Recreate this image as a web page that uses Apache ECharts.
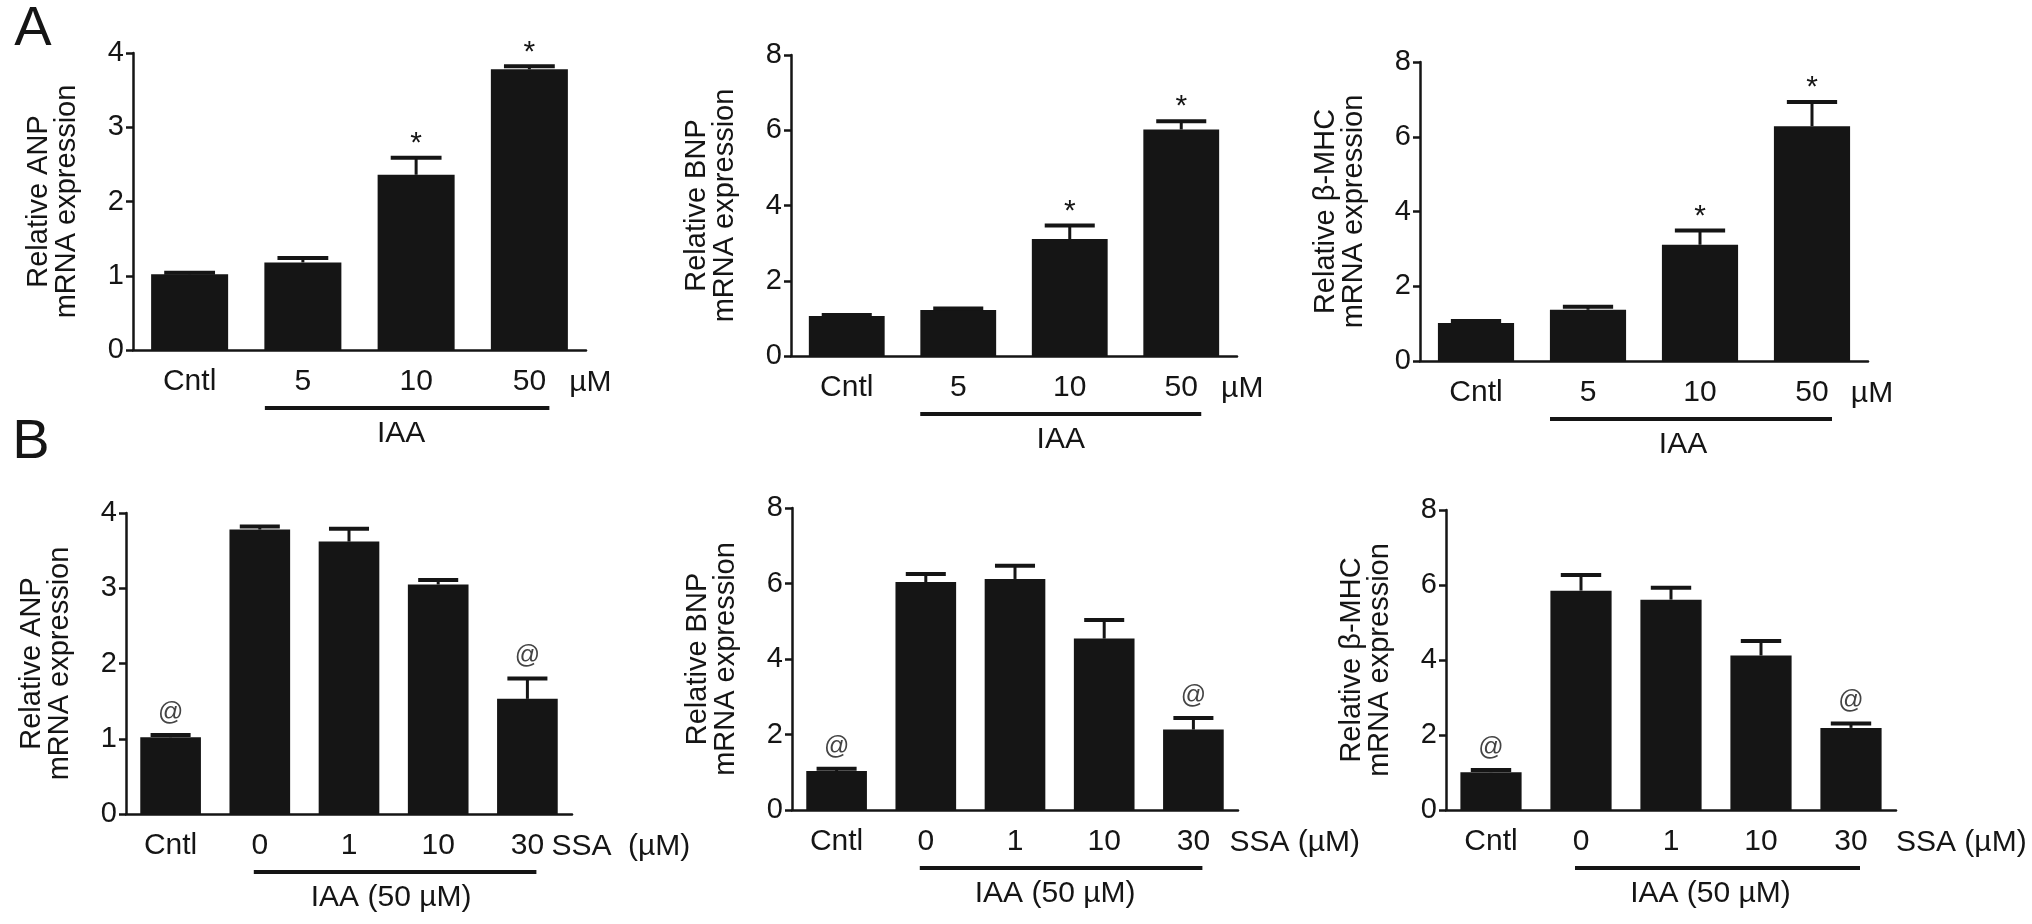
<!DOCTYPE html>
<html>
<head>
<meta charset="utf-8">
<script src="https://cdn.jsdelivr.net/npm/echarts@6/dist/echarts.min.js"></script>
<style>
  html, body { margin: 0; background: #fff; }
  #chart { width: 2032px; height: 924px; }
</style>
</head>
<body>
<div id="chart"></div>
<script>
/* ---------------------------- data ---------------------------- */
const iaaCats = ['Cntl', '5', '10', '50'];
const ssaCats = ['Cntl', '0', '1', '10', '30'];

// panel A: IAA dose response
const anpIaa = [1.02, 1.18, 2.36, 3.78];
const anpIaaErr = [0.02, 0.06, 0.23, 0.04];
const bnpIaa = [1.06, 1.22, 3.11, 6.02];
const bnpIaaErr = [0.03, 0.04, 0.36, 0.22];
const mhcIaa = [1.02, 1.37, 3.11, 6.28];
const mhcIaaErr = [0.05, 0.08, 0.38, 0.65];
const iaaMarks = ['', '', '*', '*'];

// panel B: IAA (50 uM) + SSA
const anpSsa = [1.02, 3.78, 3.62, 3.05, 1.53];
const anpSsaErr = [0.03, 0.04, 0.17, 0.06, 0.27];
const bnpSsa = [1.03, 6.04, 6.12, 4.54, 2.13];
const bnpSsaErr = [0.06, 0.21, 0.35, 0.49, 0.31];
const mhcSsa = [1.01, 5.85, 5.61, 4.12, 2.19];
const mhcSsaErr = [0.06, 0.42, 0.32, 0.39, 0.12];
const ssaMarks = ['@', '', '', '', '@'];

const FONT = "'Liberation Sans', Arial, Helvetica, sans-serif";
const INK = '#151515';

const panels = [
  { cats: iaaCats, vals: anpIaa, err: anpIaaErr, marks: iaaMarks, max: 4, step: 1,
    title: 'Relative ANP\nmRNA expression',
    grid: { left: 133, top: 53, width: 453, height: 297 },
    unit: 'µM', unitDx: 61, unitAlign: 'center', group: 'IAA', lineL: -38, lineR: 20, groupDx: -6 },
  { cats: iaaCats, vals: bnpIaa, err: bnpIaaErr, marks: iaaMarks, max: 8, step: 2,
    title: 'Relative BNP\nmRNA expression',
    grid: { left: 791, top: 55, width: 446, height: 301 },
    unit: 'µM', unitDx: 61, unitAlign: 'center', group: 'IAA', lineL: -38, lineR: 20, groupDx: 0 },
  { cats: iaaCats, vals: mhcIaa, err: mhcIaaErr, marks: iaaMarks, max: 8, step: 2,
    title: 'Relative β-MHC\nmRNA expression',
    grid: { left: 1420, top: 62, width: 448, height: 299 },
    unit: 'µM', unitDx: 60, unitAlign: 'center', group: 'IAA', lineL: -38, lineR: 20, groupDx: -8 },
  { cats: ssaCats, vals: anpSsa, err: anpSsaErr, marks: ssaMarks, max: 4, step: 1,
    title: 'Relative ANP\nmRNA expression',
    grid: { left: 126, top: 513, width: 446, height: 301 },
    unit: 'SSA  (µM)', unitDx: 24, unitAlign: 'left', group: 'IAA (50 µM)', lineL: -6, lineR: 9, groupDx: -4 },
  { cats: ssaCats, vals: bnpSsa, err: bnpSsaErr, marks: ssaMarks, max: 8, step: 2,
    title: 'Relative BNP\nmRNA expression',
    grid: { left: 792, top: 508, width: 446, height: 302 },
    unit: 'SSA (µM)', unitDx: 36, unitAlign: 'left', group: 'IAA (50 µM)', lineL: -6, lineR: 9, groupDx: -6 },
  { cats: ssaCats, vals: mhcSsa, err: mhcSsaErr, marks: ssaMarks, max: 8, step: 2,
    title: 'Relative β-MHC\nmRNA expression',
    grid: { left: 1446, top: 510, width: 450, height: 300 },
    unit: 'SSA (µM)', unitDx: 45, unitAlign: 'left', group: 'IAA (50 µM)', lineL: -6, lineR: 9, groupDx: -7 }
];

/* ------------------------- error bars ------------------------- */
const errorBars = marks => (params, api) => {
  const idx = api.value(0);
  const v = api.value(1);
  const e = api.value(2);
  const top = api.coord([idx, v]);
  const cap = api.coord([idx, v + e]);
  const half = api.size([1, 0])[0] * 0.68 * 0.33;
  const children = [
    { type: 'line', shape: { x1: top[0], y1: top[1], x2: cap[0], y2: cap[1] },
      style: { stroke: INK, lineWidth: 3 } },
    { type: 'line', shape: { x1: cap[0] - half, y1: cap[1], x2: cap[0] + half, y2: cap[1] },
      style: { stroke: INK, lineWidth: 4 } }
  ];
  const m = marks[params.dataIndex];
  if (m) {
    const star = m === '*';
    children.push({
      type: 'text',
      x: cap[0],
      y: cap[1] - 22 + (star ? 8 : 0),
      style: {
        text: m,
        fill: star ? INK : '#444',
        fontSize: star ? 30 : 25,
        fontFamily: FONT,
        align: 'center',
        verticalAlign: 'middle'
      }
    });
  }
  return { type: 'group', children };
};

const chart = echarts.init(document.getElementById('chart'), null, { renderer: 'canvas' });

const option = {
  backgroundColor: '#fff',
  animation: false,
  grid: panels.map(p => Object.assign({ containLabel: false }, p.grid)),
  xAxis: panels.map((p, i) => ({
    type: 'category',
    gridIndex: i,
    data: p.cats,
    axisLine: { lineStyle: { color: INK, width: 2.5 } },
    axisTick: { alignWithLabel: true, length: 9, lineStyle: { color: INK, width: 2.5 } },
    axisLabel: { color: INK, fontSize: 30, fontFamily: FONT, margin: 17 },
    splitLine: { show: false }
  })),
  yAxis: panels.map((p, i) => ({
    type: 'value',
    gridIndex: i,
    min: 0,
    max: p.max,
    interval: p.step,
    name: p.title,
    nameLocation: 'middle',
    nameRotate: 90,
    nameGap: 52,
    nameTextStyle: { color: INK, fontSize: 29, lineHeight: 28, fontFamily: FONT },
    axisLine: { show: true, lineStyle: { color: INK, width: 2.5 } },
    axisTick: { show: true, length: 7, lineStyle: { color: INK, width: 2.5 } },
    axisLabel: { color: INK, fontSize: 29, fontFamily: FONT, margin: 9 },
    splitLine: { show: false }
  })),
  series: panels.flatMap((p, i) => [
    {
      type: 'bar',
      xAxisIndex: i,
      yAxisIndex: i,
      data: p.vals,
      barWidth: '68%',
      itemStyle: { color: INK },
      silent: true
    },
    {
      type: 'custom',
      xAxisIndex: i,
      yAxisIndex: i,
      data: p.vals.map((v, k) => [k, v, p.err[k]]),
      encode: { x: 0, y: 1 },
      renderItem: errorBars(p.marks),
      z: 5,
      silent: true
    }
  ])
};

chart.setOption(option);

/* ----------------- group brackets & unit labels ---------------- */
const annotate = () => {
  const g = [];
  const txt = (x, y, text, size, align) => ({
    type: 'text', x, y,
    style: { text, fill: INK, fontSize: size, fontFamily: FONT, align, verticalAlign: 'middle' }
  });
  panels.forEach((p, i) => {
    const first = chart.convertToPixel({ gridIndex: i }, [1, 0]);
    const last = chart.convertToPixel({ gridIndex: i }, [p.cats.length - 1, 0]);
    const y0 = first[1];
    const x1 = first[0] + p.lineL;
    const x2 = last[0] + p.lineR;
    g.push({ type: 'line', shape: { x1, y1: y0 + 58, x2, y2: y0 + 58 },
      style: { stroke: INK, lineWidth: 4 } });
    g.push(txt((x1 + x2) / 2 + p.groupDx, y0 + 84, p.group, 30, 'center'));
    g.push(txt(last[0] + p.unitDx, y0 + 33, p.unit, 30, p.unitAlign));
  });
  g.push(txt(33, 30, 'A', 56, 'center'));
  g.push(txt(31, 443, 'B', 56, 'center'));
  chart.setOption({ graphic: g });
};

annotate();
</script>
</body>
</html>
